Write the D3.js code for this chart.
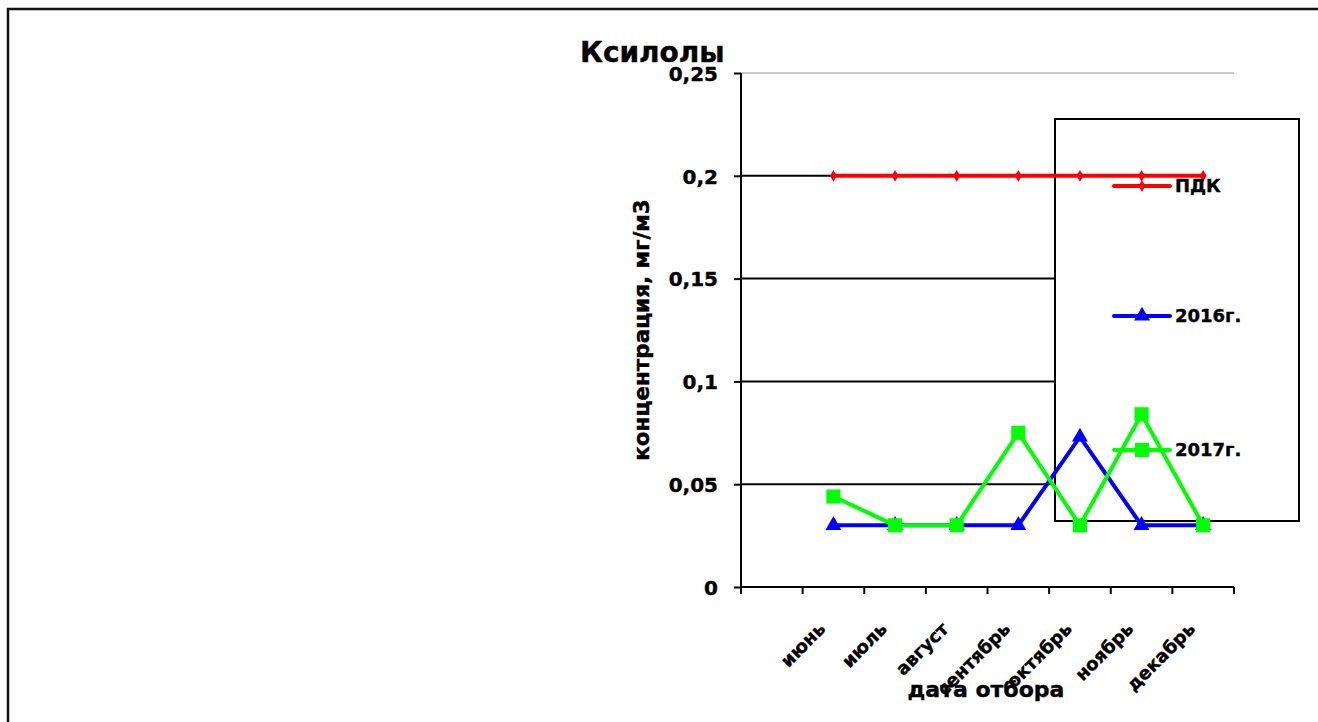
<!DOCTYPE html>
<html><head><meta charset="utf-8">
<script src="https://cdn.jsdelivr.net/npm/d3@7"></script>
<style>body{margin:0;background:#fff}svg{display:block}text{font-family:"DejaVu Sans",sans-serif;font-weight:bold;fill:#000;stroke:#000;stroke-width:0.4px}</style>
</head><body>
<svg id="c" width="1318" height="722"></svg>
<script>
const categories = ["", "июнь", "июль", "август", "сентябрь", "октябрь", "ноябрь", "декабрь"];
const months = ["июнь", "июль", "август", "сентябрь", "октябрь", "ноябрь", "декабрь"];
const pdk = [0.2, 0.2, 0.2, 0.2, 0.2, 0.2, 0.2];
const y2016 = [0.03, 0.03, 0.03, 0.03, 0.073, 0.03, 0.03];
const y2017 = [0.044, 0.03, 0.03, 0.075, 0.03, 0.084, 0.03];
const yTicks = [0, 0.05, 0.1, 0.15, 0.2, 0.25];
const yTickLabels = ["0", "0,05", "0,1", "0,15", "0,2", "0,25"];

const svg = d3.select("#c");
const L = 741, R = 1234, T = 73, B = 587;
const x = d3.scaleBand().domain(categories).range([L, R]);
const y = d3.scaleLinear().domain([0, 0.25]).range([B, T]);
const cx = m => x(m) + x.bandwidth() / 2;

// outer frame
svg.append("path").attr("d", "M8,722 V9 H1318").attr("fill", "none").attr("stroke", "#111").attr("stroke-width", 2.5);

// title
svg.append("text").attr("x", 580).attr("y", 62).attr("font-size", 28).text("Ксилолы");

// gridlines
yTicks.forEach(v => {
  if (v === 0) return;
  svg.append("line").attr("x1", L).attr("x2", R).attr("y1", y(v)).attr("y2", y(v))
    .attr("stroke", v === 0.25 ? "#c8c8c8" : "#000").attr("stroke-width", 2);
});

// legend box (white, covers gridlines)
svg.append("rect").attr("x", 1055).attr("y", 119).attr("width", 244).attr("height", 402)
  .attr("fill", "#fff").attr("stroke", "#000").attr("stroke-width", 2);

// y axis
const yAxis = d3.axisLeft(y).tickValues(yTicks).tickSize(7).tickFormat((d, i) => yTickLabels[i]);
const ga = svg.append("g").attr("transform", `translate(${L},0)`).call(yAxis);
ga.select(".domain").attr("stroke", "#000").attr("stroke-width", 2).attr("d", `M0,${T}V${B + 6}`);
ga.selectAll(".tick line").attr("stroke", "#000").attr("stroke-width", 2);
ga.selectAll(".tick text").attr("font-size", 20).attr("x", -23).attr("dy", "0.36em")
  .style("font-family", '"DejaVu Sans",sans-serif').style("font-weight", "bold");

// x axis
const gx = svg.append("g").attr("transform", `translate(0,${B})`);
gx.append("line").attr("x1", L).attr("x2", R).attr("stroke", "#000").attr("stroke-width", 2);
const bounds = categories.map(c => x(c)).concat([R]);
gx.selectAll("line.t").data(bounds).join("line").attr("class", "t")
  .attr("x1", d => d).attr("x2", d => d).attr("y1", 0).attr("y2", 7).attr("stroke", "#000").attr("stroke-width", 2);
gx.selectAll("text.m").data(months).join("text").attr("class", "m")
  .attr("font-size", 18).attr("text-anchor", "end")
  .attr("transform", d => `translate(${cx(d) - 7},${43}) rotate(-45)`)
  .text(d => d);

// axis titles
svg.append("text").attr("font-size", 21.5).attr("text-anchor", "middle")
  .attr("transform", `translate(649,330) rotate(-90)`).text("концентрация, мг/м3");
svg.append("text").attr("font-size", 22).attr("text-anchor", "middle")
  .attr("x", 986).attr("y", 697).text("дата отбора");

// series
const line = d3.line().x((d, i) => cx(months[i])).y(d => y(d));
const series = [
  {name: "ПДК", data: pdk, color: "#ff0000", marker: "diamond"},
  {name: "2016г.", data: y2016, color: "#0000ff", marker: "triangle"},
  {name: "2017г.", data: y2017, color: "#00ff00", marker: "square"}
];
const sym = {
  diamond: d3.symbol().type(d3.symbolDiamond).size(40),
  triangle: d3.symbol().type(d3.symbolTriangle).size(110),
  square: d3.symbol().type(d3.symbolSquare).size(200)
};
series.forEach(s => {
  svg.append("path").attr("d", line(s.data)).attr("fill", "none").attr("stroke", s.color)
    .attr("stroke-width", 4).attr("stroke-linejoin", "round");
  svg.selectAll(null).data(s.data).join("path")
    .attr("transform", (d, i) => `translate(${cx(months[i])},${y(d)})`)
    .attr("d", sym[s.marker]()).attr("fill", s.color);
});

// legend entries
const ly = [186, 316, 450];
series.forEach((s, i) => {
  svg.append("line").attr("x1", 1114).attr("x2", 1170).attr("y1", ly[i]).attr("y2", ly[i])
    .attr("stroke", s.color).attr("stroke-width", 4).attr("stroke-linecap", "round");
  svg.append("path").attr("transform", `translate(1142,${ly[i]})`).attr("d", sym[s.marker]()).attr("fill", s.color);
  svg.append("text").attr("x", 1175).attr("y", ly[i]).attr("dy", "0.36em").attr("font-size", 18).text(s.name);
});
</script>
</body></html>
